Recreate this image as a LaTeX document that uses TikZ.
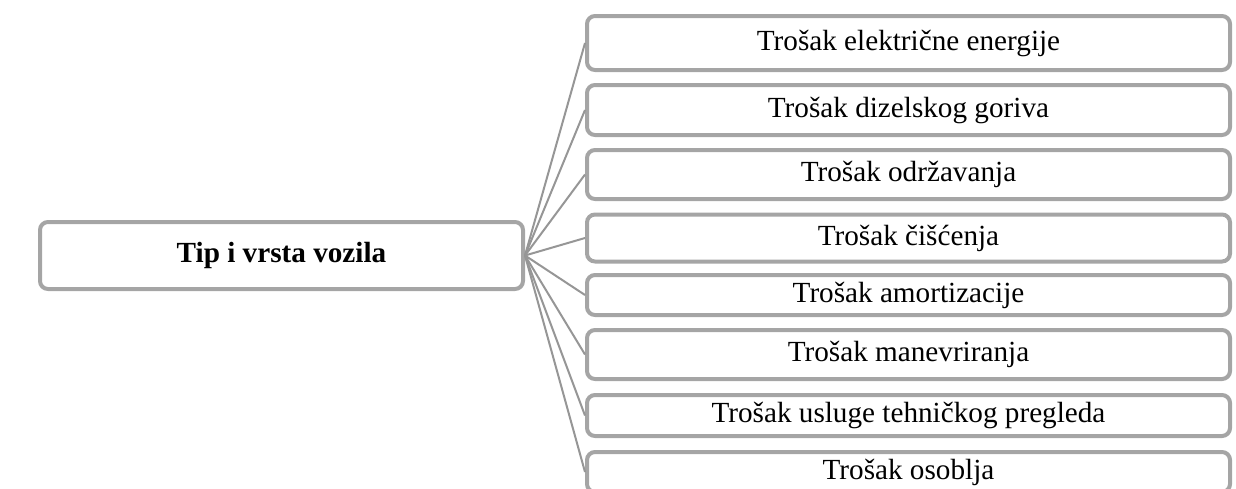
\documentclass[tikz,border=0pt]{standalone}
\usepackage{fontspec}
\setmainfont{Liberation Serif}
\usepackage{tikz}
\definecolor{boxgray}{RGB}{165,165,165}
\definecolor{linegray}{RGB}{150,150,150}

\begin{document}
\begin{tikzpicture}[x=0.5pt,y=0.5pt,yscale=-1,xscale=1,
  box/.style={draw=boxgray,line width=2pt,rounded corners=4pt,inner sep=0pt,
    font=\fontsize{14.6}{17}\selectfont},
  costbox/.style={box,minimum width=321.5pt},
  link/.style={draw=linegray,line width=1pt}]
%set diagram to the page size 1236 x 488
\useasboundingbox (0,0) rectangle (1236,488);
\clip (0,0) rectangle (1236,488);

%Shape: Rounded Rect [id:main]
\node[box,minimum width=241.5pt,minimum height=33.5pt,font=\fontsize{14.6}{17}\selectfont\bfseries] (vozilo) at (281.5,255.5) {Tip i vrsta vozila};

%Shape: Rounded Rect [id:c1]
\node[costbox,minimum height=27pt] (struja) at (908.5,43) {Trošak električne energije};
%Shape: Rounded Rect [id:c2]
\node[costbox,minimum height=25pt] (dizel) at (908.5,110) {Trošak dizelskog goriva};
%Shape: Rounded Rect [id:c3]
\node[costbox,minimum height=24.5pt] (odrzavanje) at (908.5,174.5) {Trošak održavanja};
%Shape: Rounded Rect [id:c4]
\node[costbox,minimum height=23.5pt] (ciscenje) at (908.5,238) {Trošak čišćenja};
%Shape: Rounded Rect [id:c5]
\node[costbox,minimum height=20pt] (amortizacija) at (908.5,295) {Trošak amortizacije};
%Shape: Rounded Rect [id:c6]
\node[costbox,minimum height=24.5pt] (manevar) at (908.5,354.5) {Trošak manevriranja};
%Shape: Rounded Rect [id:c7]
\node[costbox,minimum height=20.5pt] (pregled) at (908.5,415.5) {Trošak usluge tehničkog pregleda};
%Shape: Rounded Rect [id:c8]
\node[costbox,minimum height=20pt] (osoblje) at (908.5,472) {Trošak osoblja};

%Straight Lines
\foreach \t in {struja,dizel,odrzavanje,ciscenje,amortizacija,manevar,pregled,osoblje}
  \draw[link] (vozilo.east) -- (\t.west);

\end{tikzpicture}
\end{document}
